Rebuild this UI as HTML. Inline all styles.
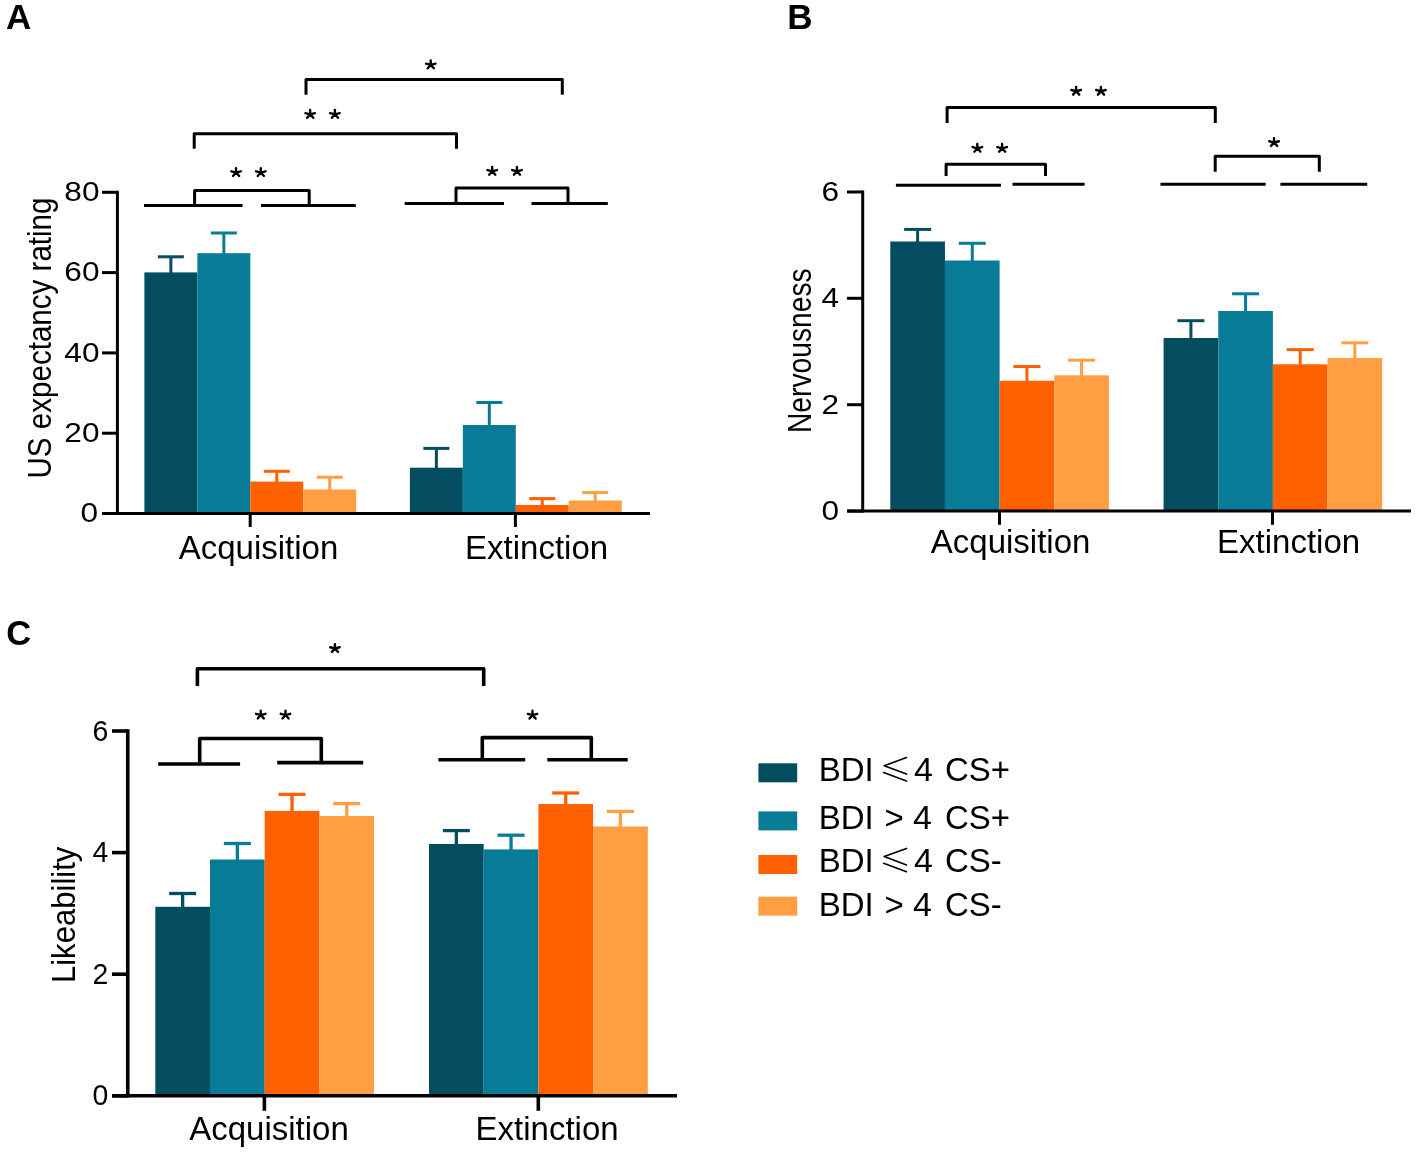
<!DOCTYPE html>
<html><head><meta charset="utf-8"><style>
html,body{margin:0;padding:0;background:#fff;}
svg{display:block;will-change:transform;}
text{font-family:"Liberation Sans",sans-serif;fill:#000;}
</style></head><body>
<svg width="1417" height="1153" viewBox="0 0 1417 1153">
<rect x="0" y="0" width="1417" height="1153" fill="#fff"/>
<line x1="170.88" y1="273.40" x2="170.88" y2="256.80" stroke="#044D61" stroke-width="3" stroke-linecap="butt"/>
<line x1="157.88" y1="256.80" x2="183.88" y2="256.80" stroke="#044D61" stroke-width="3" stroke-linecap="butt"/>
<rect x="144.40" y="272.40" width="52.95" height="241.10" fill="#044D61"/>
<line x1="223.83" y1="254.20" x2="223.83" y2="233.00" stroke="#087B96" stroke-width="3" stroke-linecap="butt"/>
<line x1="210.83" y1="233.00" x2="236.83" y2="233.00" stroke="#087B96" stroke-width="3" stroke-linecap="butt"/>
<rect x="197.35" y="253.20" width="52.95" height="260.30" fill="#087B96"/>
<line x1="276.78" y1="482.60" x2="276.78" y2="471.30" stroke="#FF6100" stroke-width="3" stroke-linecap="butt"/>
<line x1="263.78" y1="471.30" x2="289.78" y2="471.30" stroke="#FF6100" stroke-width="3" stroke-linecap="butt"/>
<rect x="250.30" y="481.60" width="52.95" height="31.90" fill="#FF6100"/>
<line x1="329.73" y1="490.50" x2="329.73" y2="477.20" stroke="#FF9E42" stroke-width="3" stroke-linecap="butt"/>
<line x1="316.73" y1="477.20" x2="342.73" y2="477.20" stroke="#FF9E42" stroke-width="3" stroke-linecap="butt"/>
<rect x="303.25" y="489.50" width="52.95" height="24.00" fill="#FF9E42"/>
<line x1="436.38" y1="468.70" x2="436.38" y2="448.40" stroke="#044D61" stroke-width="3" stroke-linecap="butt"/>
<line x1="423.38" y1="448.40" x2="449.38" y2="448.40" stroke="#044D61" stroke-width="3" stroke-linecap="butt"/>
<rect x="409.90" y="467.70" width="52.95" height="45.80" fill="#044D61"/>
<line x1="489.32" y1="426.00" x2="489.32" y2="402.50" stroke="#087B96" stroke-width="3" stroke-linecap="butt"/>
<line x1="476.32" y1="402.50" x2="502.32" y2="402.50" stroke="#087B96" stroke-width="3" stroke-linecap="butt"/>
<rect x="462.85" y="425.00" width="52.95" height="88.50" fill="#087B96"/>
<line x1="542.27" y1="506.00" x2="542.27" y2="498.60" stroke="#FF6100" stroke-width="3" stroke-linecap="butt"/>
<line x1="529.27" y1="498.60" x2="555.27" y2="498.60" stroke="#FF6100" stroke-width="3" stroke-linecap="butt"/>
<rect x="515.80" y="505.00" width="52.95" height="8.50" fill="#FF6100"/>
<line x1="595.23" y1="501.50" x2="595.23" y2="492.60" stroke="#FF9E42" stroke-width="3" stroke-linecap="butt"/>
<line x1="582.23" y1="492.60" x2="608.23" y2="492.60" stroke="#FF9E42" stroke-width="3" stroke-linecap="butt"/>
<rect x="568.75" y="500.50" width="52.95" height="13.00" fill="#FF9E42"/>
<line x1="117.40" y1="190.80" x2="117.40" y2="515.00" stroke="#000" stroke-width="3" stroke-linecap="butt"/>
<line x1="102.00" y1="192.30" x2="117.40" y2="192.30" stroke="#000" stroke-width="3" stroke-linecap="butt"/>
<text transform="translate(99.50 201.10) scale(1.11 1)" font-size="28.5" text-anchor="end">80</text>
<line x1="102.00" y1="272.60" x2="117.40" y2="272.60" stroke="#000" stroke-width="3" stroke-linecap="butt"/>
<text transform="translate(99.50 281.40) scale(1.11 1)" font-size="28.5" text-anchor="end">60</text>
<line x1="102.00" y1="352.90" x2="117.40" y2="352.90" stroke="#000" stroke-width="3" stroke-linecap="butt"/>
<text transform="translate(99.50 361.70) scale(1.11 1)" font-size="28.5" text-anchor="end">40</text>
<line x1="102.00" y1="433.20" x2="117.40" y2="433.20" stroke="#000" stroke-width="3" stroke-linecap="butt"/>
<text transform="translate(99.50 442.00) scale(1.11 1)" font-size="28.5" text-anchor="end">20</text>
<line x1="102.00" y1="513.50" x2="117.40" y2="513.50" stroke="#000" stroke-width="3" stroke-linecap="butt"/>
<text transform="translate(98.20 522.30) scale(1.11 1)" font-size="28.5" text-anchor="end">0</text>
<line x1="102.20" y1="513.50" x2="650.00" y2="513.50" stroke="#000" stroke-width="3" stroke-linecap="butt"/>
<line x1="250.20" y1="513.50" x2="250.20" y2="527.00" stroke="#000" stroke-width="3" stroke-linecap="butt"/>
<line x1="515.40" y1="513.50" x2="515.40" y2="527.00" stroke="#000" stroke-width="3" stroke-linecap="butt"/>
<text transform="translate(258.50 558.90)" font-size="33" text-anchor="middle">Acquisition</text>
<text transform="translate(536.60 559.00)" font-size="33" text-anchor="middle">Extinction</text>
<text transform="translate(50.70 338.00) rotate(-90) scale(0.896 1)" font-size="33" text-anchor="middle">US expectancy rating</text>
<line x1="144.00" y1="205.50" x2="242.50" y2="205.50" stroke="#000" stroke-width="3" stroke-linecap="butt"/>
<line x1="261.00" y1="205.50" x2="355.80" y2="205.50" stroke="#000" stroke-width="3" stroke-linecap="butt"/>
<path d="M194.6 205.5 V190.4 H309.2 V205.5" fill="none" stroke="#000" stroke-width="3" stroke-linejoin="round" stroke-linecap="butt"/>
<path d="M236.03 172.55 l0 -4.3 M236.03 172.55 l-4.7 -1.25 M236.03 172.55 l4.8 -1.25 M236.03 172.55 l-3.0 3.4 M236.03 172.55 l3.15 3.4" fill="none" stroke="#000" stroke-width="2.4" stroke-linecap="round"/>
<path d="M260.77 172.55 l0 -4.3 M260.77 172.55 l-4.7 -1.25 M260.77 172.55 l4.8 -1.25 M260.77 172.55 l-3.0 3.4 M260.77 172.55 l3.15 3.4" fill="none" stroke="#000" stroke-width="2.4" stroke-linecap="round"/>
<line x1="404.70" y1="203.50" x2="504.00" y2="203.50" stroke="#000" stroke-width="3" stroke-linecap="butt"/>
<line x1="531.50" y1="203.50" x2="607.80" y2="203.50" stroke="#000" stroke-width="3" stroke-linecap="butt"/>
<path d="M456 203.5 V188 H568 V203.5" fill="none" stroke="#000" stroke-width="3" stroke-linejoin="round" stroke-linecap="butt"/>
<path d="M492.18 171.30 l0 -4.3 M492.18 171.30 l-4.7 -1.25 M492.18 171.30 l4.8 -1.25 M492.18 171.30 l-3.0 3.4 M492.18 171.30 l3.15 3.4" fill="none" stroke="#000" stroke-width="2.4" stroke-linecap="round"/>
<path d="M516.92 171.30 l0 -4.3 M516.92 171.30 l-4.7 -1.25 M516.92 171.30 l4.8 -1.25 M516.92 171.30 l-3.0 3.4 M516.92 171.30 l3.15 3.4" fill="none" stroke="#000" stroke-width="2.4" stroke-linecap="round"/>
<path d="M194.2 148.8 V133.7 H456.5 V148.8" fill="none" stroke="#000" stroke-width="3" stroke-linejoin="round" stroke-linecap="butt"/>
<path d="M310.12 114.35 l0 -4.3 M310.12 114.35 l-4.7 -1.25 M310.12 114.35 l4.8 -1.25 M310.12 114.35 l-3.0 3.4 M310.12 114.35 l3.15 3.4" fill="none" stroke="#000" stroke-width="2.4" stroke-linecap="round"/>
<path d="M334.88 114.35 l0 -4.3 M334.88 114.35 l-4.7 -1.25 M334.88 114.35 l4.8 -1.25 M334.88 114.35 l-3.0 3.4 M334.88 114.35 l3.15 3.4" fill="none" stroke="#000" stroke-width="2.4" stroke-linecap="round"/>
<path d="M306 94.8 V79.4 H562.3 V94.8" fill="none" stroke="#000" stroke-width="3" stroke-linejoin="round" stroke-linecap="butt"/>
<path d="M430.70 64.85 l0 -4.3 M430.70 64.85 l-4.7 -1.25 M430.70 64.85 l4.8 -1.25 M430.70 64.85 l-3.0 3.4 M430.70 64.85 l3.15 3.4" fill="none" stroke="#000" stroke-width="2.4" stroke-linecap="round"/>
<line x1="917.62" y1="242.50" x2="917.62" y2="229.40" stroke="#044D61" stroke-width="3" stroke-linecap="butt"/>
<line x1="904.12" y1="229.40" x2="931.12" y2="229.40" stroke="#044D61" stroke-width="3" stroke-linecap="butt"/>
<rect x="890.30" y="241.50" width="54.65" height="269.60" fill="#044D61"/>
<line x1="972.27" y1="261.50" x2="972.27" y2="243.30" stroke="#087B96" stroke-width="3" stroke-linecap="butt"/>
<line x1="958.77" y1="243.30" x2="985.77" y2="243.30" stroke="#087B96" stroke-width="3" stroke-linecap="butt"/>
<rect x="944.95" y="260.50" width="54.65" height="250.60" fill="#087B96"/>
<line x1="1026.92" y1="381.80" x2="1026.92" y2="366.50" stroke="#FF6100" stroke-width="3" stroke-linecap="butt"/>
<line x1="1013.42" y1="366.50" x2="1040.42" y2="366.50" stroke="#FF6100" stroke-width="3" stroke-linecap="butt"/>
<rect x="999.60" y="380.80" width="54.65" height="130.30" fill="#FF6100"/>
<line x1="1081.58" y1="376.30" x2="1081.58" y2="360.20" stroke="#FF9E42" stroke-width="3" stroke-linecap="butt"/>
<line x1="1068.08" y1="360.20" x2="1095.08" y2="360.20" stroke="#FF9E42" stroke-width="3" stroke-linecap="butt"/>
<rect x="1054.25" y="375.30" width="54.65" height="135.80" fill="#FF9E42"/>
<line x1="1190.92" y1="339.00" x2="1190.92" y2="320.70" stroke="#044D61" stroke-width="3" stroke-linecap="butt"/>
<line x1="1177.42" y1="320.70" x2="1204.42" y2="320.70" stroke="#044D61" stroke-width="3" stroke-linecap="butt"/>
<rect x="1163.60" y="338.00" width="54.65" height="173.10" fill="#044D61"/>
<line x1="1245.58" y1="312.00" x2="1245.58" y2="293.80" stroke="#087B96" stroke-width="3" stroke-linecap="butt"/>
<line x1="1232.08" y1="293.80" x2="1259.08" y2="293.80" stroke="#087B96" stroke-width="3" stroke-linecap="butt"/>
<rect x="1218.25" y="311.00" width="54.65" height="200.10" fill="#087B96"/>
<line x1="1300.22" y1="365.30" x2="1300.22" y2="349.60" stroke="#FF6100" stroke-width="3" stroke-linecap="butt"/>
<line x1="1286.72" y1="349.60" x2="1313.72" y2="349.60" stroke="#FF6100" stroke-width="3" stroke-linecap="butt"/>
<rect x="1272.90" y="364.30" width="54.65" height="146.80" fill="#FF6100"/>
<line x1="1354.88" y1="359.00" x2="1354.88" y2="342.80" stroke="#FF9E42" stroke-width="3" stroke-linecap="butt"/>
<line x1="1341.38" y1="342.80" x2="1368.38" y2="342.80" stroke="#FF9E42" stroke-width="3" stroke-linecap="butt"/>
<rect x="1327.55" y="358.00" width="54.65" height="153.10" fill="#FF9E42"/>
<line x1="862.70" y1="190.50" x2="862.70" y2="512.60" stroke="#000" stroke-width="3" stroke-linecap="butt"/>
<line x1="847.00" y1="192.00" x2="862.70" y2="192.00" stroke="#000" stroke-width="3" stroke-linecap="butt"/>
<text transform="translate(839.00 200.80) scale(1.11 1)" font-size="28.5" text-anchor="end">6</text>
<line x1="847.00" y1="298.30" x2="862.70" y2="298.30" stroke="#000" stroke-width="3" stroke-linecap="butt"/>
<text transform="translate(839.00 307.10) scale(1.11 1)" font-size="28.5" text-anchor="end">4</text>
<line x1="847.00" y1="404.70" x2="862.70" y2="404.70" stroke="#000" stroke-width="3" stroke-linecap="butt"/>
<text transform="translate(839.00 413.50) scale(1.11 1)" font-size="28.5" text-anchor="end">2</text>
<line x1="847.00" y1="511.10" x2="862.70" y2="511.10" stroke="#000" stroke-width="3" stroke-linecap="butt"/>
<text transform="translate(839.00 519.90) scale(1.11 1)" font-size="28.5" text-anchor="end">0</text>
<line x1="847.50" y1="511.10" x2="1411.00" y2="511.10" stroke="#000" stroke-width="3" stroke-linecap="butt"/>
<line x1="999.50" y1="511.10" x2="999.50" y2="524.80" stroke="#000" stroke-width="3" stroke-linecap="butt"/>
<line x1="1272.50" y1="511.10" x2="1272.50" y2="524.80" stroke="#000" stroke-width="3" stroke-linecap="butt"/>
<text transform="translate(1010.60 552.90)" font-size="33" text-anchor="middle">Acquisition</text>
<text transform="translate(1288.60 552.90)" font-size="33" text-anchor="middle">Extinction</text>
<text transform="translate(810.90 350.70) rotate(-90) scale(0.855 1)" font-size="33" text-anchor="middle">Nervousness</text>
<line x1="895.90" y1="185.20" x2="1001.00" y2="185.20" stroke="#000" stroke-width="3" stroke-linecap="butt"/>
<line x1="1012.50" y1="184.20" x2="1084.60" y2="184.20" stroke="#000" stroke-width="3" stroke-linecap="butt"/>
<path d="M946.1 176.1 V164.3 H1045.5 V176.1" fill="none" stroke="#000" stroke-width="3" stroke-linejoin="round" stroke-linecap="butt"/>
<path d="M977.33 148.30 l0 -4.3 M977.33 148.30 l-4.7 -1.25 M977.33 148.30 l4.8 -1.25 M977.33 148.30 l-3.0 3.4 M977.33 148.30 l3.15 3.4" fill="none" stroke="#000" stroke-width="2.4" stroke-linecap="round"/>
<path d="M1002.08 148.30 l0 -4.3 M1002.08 148.30 l-4.7 -1.25 M1002.08 148.30 l4.8 -1.25 M1002.08 148.30 l-3.0 3.4 M1002.08 148.30 l3.15 3.4" fill="none" stroke="#000" stroke-width="2.4" stroke-linecap="round"/>
<path d="M947.1 123 V107.5 H1215.3 V123" fill="none" stroke="#000" stroke-width="3" stroke-linejoin="round" stroke-linecap="butt"/>
<path d="M1076.12 91.25 l0 -4.3 M1076.12 91.25 l-4.7 -1.25 M1076.12 91.25 l4.8 -1.25 M1076.12 91.25 l-3.0 3.4 M1076.12 91.25 l3.15 3.4" fill="none" stroke="#000" stroke-width="2.4" stroke-linecap="round"/>
<path d="M1100.88 91.25 l0 -4.3 M1100.88 91.25 l-4.7 -1.25 M1100.88 91.25 l4.8 -1.25 M1100.88 91.25 l-3.0 3.4 M1100.88 91.25 l3.15 3.4" fill="none" stroke="#000" stroke-width="2.4" stroke-linecap="round"/>
<line x1="1160.50" y1="184.30" x2="1265.70" y2="184.30" stroke="#000" stroke-width="3" stroke-linecap="butt"/>
<line x1="1280.40" y1="184.30" x2="1367.20" y2="184.30" stroke="#000" stroke-width="3" stroke-linecap="butt"/>
<path d="M1215.2 171.8 V156.2 H1319.3 V171.8" fill="none" stroke="#000" stroke-width="3" stroke-linejoin="round" stroke-linecap="butt"/>
<path d="M1274.00 142.50 l0 -4.3 M1274.00 142.50 l-4.7 -1.25 M1274.00 142.50 l4.8 -1.25 M1274.00 142.50 l-3.0 3.4 M1274.00 142.50 l3.15 3.4" fill="none" stroke="#000" stroke-width="2.4" stroke-linecap="round"/>
<line x1="182.65" y1="907.80" x2="182.65" y2="893.50" stroke="#044D61" stroke-width="3.3" stroke-linecap="butt"/>
<line x1="169.15" y1="893.50" x2="196.15" y2="893.50" stroke="#044D61" stroke-width="3.3" stroke-linecap="butt"/>
<rect x="155.30" y="906.80" width="54.70" height="189.00" fill="#044D61"/>
<line x1="237.35" y1="860.50" x2="237.35" y2="843.50" stroke="#087B96" stroke-width="3.3" stroke-linecap="butt"/>
<line x1="223.85" y1="843.50" x2="250.85" y2="843.50" stroke="#087B96" stroke-width="3.3" stroke-linecap="butt"/>
<rect x="210.00" y="859.50" width="54.70" height="236.30" fill="#087B96"/>
<line x1="292.05" y1="811.90" x2="292.05" y2="794.40" stroke="#FF6100" stroke-width="3.3" stroke-linecap="butt"/>
<line x1="278.55" y1="794.40" x2="305.55" y2="794.40" stroke="#FF6100" stroke-width="3.3" stroke-linecap="butt"/>
<rect x="264.70" y="810.90" width="54.70" height="284.90" fill="#FF6100"/>
<line x1="346.75" y1="817.00" x2="346.75" y2="803.60" stroke="#FF9E42" stroke-width="3.3" stroke-linecap="butt"/>
<line x1="333.25" y1="803.60" x2="360.25" y2="803.60" stroke="#FF9E42" stroke-width="3.3" stroke-linecap="butt"/>
<rect x="319.40" y="816.00" width="54.70" height="279.80" fill="#FF9E42"/>
<line x1="456.35" y1="845.00" x2="456.35" y2="830.60" stroke="#044D61" stroke-width="3.3" stroke-linecap="butt"/>
<line x1="442.85" y1="830.60" x2="469.85" y2="830.60" stroke="#044D61" stroke-width="3.3" stroke-linecap="butt"/>
<rect x="429.00" y="844.00" width="54.70" height="251.80" fill="#044D61"/>
<line x1="511.05" y1="850.40" x2="511.05" y2="835.20" stroke="#087B96" stroke-width="3.3" stroke-linecap="butt"/>
<line x1="497.55" y1="835.20" x2="524.55" y2="835.20" stroke="#087B96" stroke-width="3.3" stroke-linecap="butt"/>
<rect x="483.70" y="849.40" width="54.70" height="246.40" fill="#087B96"/>
<line x1="565.75" y1="805.00" x2="565.75" y2="793.00" stroke="#FF6100" stroke-width="3.3" stroke-linecap="butt"/>
<line x1="552.25" y1="793.00" x2="579.25" y2="793.00" stroke="#FF6100" stroke-width="3.3" stroke-linecap="butt"/>
<rect x="538.40" y="804.00" width="54.70" height="291.80" fill="#FF6100"/>
<line x1="620.45" y1="827.50" x2="620.45" y2="811.40" stroke="#FF9E42" stroke-width="3.3" stroke-linecap="butt"/>
<line x1="606.95" y1="811.40" x2="633.95" y2="811.40" stroke="#FF9E42" stroke-width="3.3" stroke-linecap="butt"/>
<rect x="593.10" y="826.50" width="54.70" height="269.30" fill="#FF9E42"/>
<line x1="127.75" y1="729.20" x2="127.75" y2="1097.60" stroke="#000" stroke-width="3.6" stroke-linecap="butt"/>
<line x1="112.00" y1="731.00" x2="127.75" y2="731.00" stroke="#000" stroke-width="3.6" stroke-linecap="butt"/>
<text transform="translate(108.20 740.58) scale(0.98 1)" font-size="29" text-anchor="end">6</text>
<line x1="112.00" y1="852.60" x2="127.75" y2="852.60" stroke="#000" stroke-width="3.6" stroke-linecap="butt"/>
<text transform="translate(108.20 862.18) scale(0.98 1)" font-size="29" text-anchor="end">4</text>
<line x1="112.00" y1="974.20" x2="127.75" y2="974.20" stroke="#000" stroke-width="3.6" stroke-linecap="butt"/>
<text transform="translate(108.20 983.78) scale(0.98 1)" font-size="29" text-anchor="end">2</text>
<line x1="112.00" y1="1095.80" x2="127.75" y2="1095.80" stroke="#000" stroke-width="3.6" stroke-linecap="butt"/>
<text transform="translate(108.20 1105.38) scale(0.98 1)" font-size="29" text-anchor="end">0</text>
<line x1="112.20" y1="1095.80" x2="677.00" y2="1095.80" stroke="#000" stroke-width="3.6" stroke-linecap="butt"/>
<line x1="264.40" y1="1095.80" x2="264.40" y2="1110.80" stroke="#000" stroke-width="3.6" stroke-linecap="butt"/>
<line x1="538.30" y1="1095.80" x2="538.30" y2="1110.80" stroke="#000" stroke-width="3.6" stroke-linecap="butt"/>
<text transform="translate(269.00 1140.40)" font-size="33" text-anchor="middle">Acquisition</text>
<text transform="translate(547.10 1140.40)" font-size="33" text-anchor="middle">Extinction</text>
<text transform="translate(74.50 914.85) rotate(-90) scale(0.942 1)" font-size="33" text-anchor="middle">Likeability</text>
<line x1="158.20" y1="764.00" x2="240.10" y2="764.00" stroke="#000" stroke-width="3.6" stroke-linecap="butt"/>
<line x1="277.20" y1="762.60" x2="363.20" y2="762.60" stroke="#000" stroke-width="3.6" stroke-linecap="butt"/>
<path d="M199.7 762.6 V738.45 H321.3 V762.6" fill="none" stroke="#000" stroke-width="3.6" stroke-linejoin="round" stroke-linecap="butt"/>
<path d="M260.73 715.05 l0 -4.3 M260.73 715.05 l-4.7 -1.25 M260.73 715.05 l4.8 -1.25 M260.73 715.05 l-3.0 3.4 M260.73 715.05 l3.15 3.4" fill="none" stroke="#000" stroke-width="2.4" stroke-linecap="round"/>
<path d="M285.48 715.05 l0 -4.3 M285.48 715.05 l-4.7 -1.25 M285.48 715.05 l4.8 -1.25 M285.48 715.05 l-3.0 3.4 M285.48 715.05 l3.15 3.4" fill="none" stroke="#000" stroke-width="2.4" stroke-linecap="round"/>
<path d="M197.4 686.1 V668.7 H483.7 V686.1" fill="none" stroke="#000" stroke-width="3.6" stroke-linejoin="round" stroke-linecap="butt"/>
<path d="M334.90 648.50 l0 -4.3 M334.90 648.50 l-4.7 -1.25 M334.90 648.50 l4.8 -1.25 M334.90 648.50 l-3.0 3.4 M334.90 648.50 l3.15 3.4" fill="none" stroke="#000" stroke-width="2.4" stroke-linecap="round"/>
<line x1="438.40" y1="759.80" x2="525.20" y2="759.80" stroke="#000" stroke-width="3.6" stroke-linecap="butt"/>
<line x1="547.30" y1="759.80" x2="627.70" y2="759.80" stroke="#000" stroke-width="3.6" stroke-linecap="butt"/>
<path d="M482.3 759.8 V737.6 H591.3 V759.8" fill="none" stroke="#000" stroke-width="3.6" stroke-linejoin="round" stroke-linecap="butt"/>
<path d="M532.50 715.10 l0 -4.3 M532.50 715.10 l-4.7 -1.25 M532.50 715.10 l4.8 -1.25 M532.50 715.10 l-3.0 3.4 M532.50 715.10 l3.15 3.4" fill="none" stroke="#000" stroke-width="2.4" stroke-linecap="round"/>
<rect x="758.40" y="763.30" width="38.80" height="19.00" fill="#044D61"/>
<text transform="translate(818.70 781.10)" font-size="33">BDI</text>
<path d="M906.5 757.60 L884.2 765.80 L906.5 774.10" fill="none" stroke="#000" stroke-width="1.65" stroke-linejoin="round" stroke-linecap="round"/>
<path d="M883.6 772.50 L906.5 780.90" fill="none" stroke="#000" stroke-width="1.65" stroke-linecap="round"/>
<text transform="translate(913.90 781.30)" font-size="34">4</text>
<text transform="translate(945.00 781.10)" font-size="33">CS+</text>
<rect x="758.40" y="811.40" width="38.80" height="19.00" fill="#087B96"/>
<text transform="translate(818.70 828.50)" font-size="33">BDI</text>
<text transform="translate(894.25 828.50)" font-size="33" text-anchor="middle">&gt;</text>
<text transform="translate(913.00 828.70)" font-size="34">4</text>
<text transform="translate(945.00 828.50)" font-size="33">CS+</text>
<rect x="758.40" y="855.00" width="38.80" height="19.00" fill="#FF6100"/>
<text transform="translate(818.70 871.90)" font-size="33">BDI</text>
<path d="M906.5 848.40 L884.2 856.60 L906.5 864.90" fill="none" stroke="#000" stroke-width="1.65" stroke-linejoin="round" stroke-linecap="round"/>
<path d="M883.6 863.30 L906.5 871.70" fill="none" stroke="#000" stroke-width="1.65" stroke-linecap="round"/>
<text transform="translate(913.90 872.10)" font-size="34">4</text>
<text transform="translate(945.00 871.90)" font-size="33">CS-</text>
<rect x="758.40" y="896.70" width="38.80" height="19.00" fill="#FF9E42"/>
<text transform="translate(818.70 915.60)" font-size="33">BDI</text>
<text transform="translate(894.25 915.60)" font-size="33" text-anchor="middle">&gt;</text>
<text transform="translate(913.00 915.80)" font-size="34">4</text>
<text transform="translate(945.00 915.60)" font-size="33">CS-</text>
<text transform="translate(5.90 28.60)" font-size="35" font-weight="bold">A</text>
<text transform="translate(787.20 28.60)" font-size="35" font-weight="bold">B</text>
<text transform="translate(6.30 645.10)" font-size="34.5" font-weight="bold">C</text>
</svg></body></html>
